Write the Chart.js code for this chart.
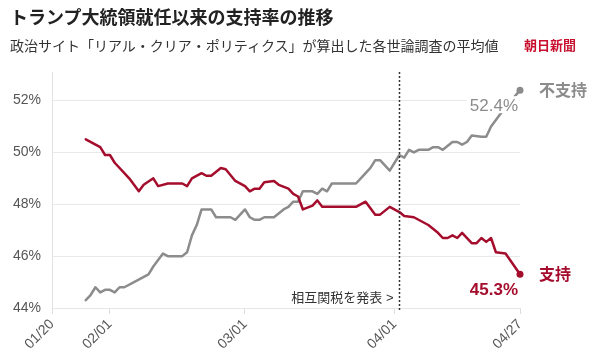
<!DOCTYPE html>
<html>
<head>
<meta charset="utf-8">
<script src="https://cdn.jsdelivr.net/npm/chart.js@4"></script>
<style>
  body { margin: 0; background: #fff; }
  #wrap { position: relative; width: 606px; height: 362px; overflow: hidden; }
  #wrap canvas { position: absolute; left: 0; top: 0; }
  .hd { position: absolute; white-space: nowrap; line-height: 1; font-family: "Noto Sans CJK JP", "Noto Sans", sans-serif; }
  #title { left: 10px; top: 7px; font-size: 18px; font-weight: bold; color: #222; }
  #sub { left: 10px; top: 38px; font-size: 14px; color: #333; }
  #logo { left: 524px; top: 38px; font-size: 13px; font-weight: bold; color: #c8102e; }
</style>
</head>
<body>
<div id="wrap">
  <canvas id="lineChart" width="606" height="362"></canvas>
  <div class="hd" id="title">トランプ大統領就任以来の支持率の推移</div>
  <div class="hd" id="sub">政治サイト「リアル・クリア・ポリティクス」が算出した各世論調査の平均値</div>
  <div class="hd" id="logo">朝日新聞</div>
</div>
<script>
// x = days since 01/20 (inauguration)
const xTickDays = [0, 12, 40, 71, 97];
const xTickLabels = ['01/20', '02/01', '03/01', '04/01', '04/27'];
const yTicks = [44, 46, 48, 50, 52];

// 支持 (approve)
const supportDays = [7, 10, 11, 12, 13, 16, 18, 19, 21, 22, 24, 27, 28, 29, 31, 32, 33, 35, 36, 38, 40, 41, 42, 43, 44, 46, 47, 49, 50, 51, 52, 54, 55, 56, 63, 65, 67, 68, 70, 72, 73, 75, 78, 80, 81, 82, 83, 84, 85, 87, 88, 89, 90, 91, 92, 94, 97];
const supportValues = [50.5, 50.2, 49.9, 49.9, 49.6, 49.0, 48.5, 48.75, 49.0, 48.7, 48.8, 48.8, 48.7, 49.0, 49.2, 49.1, 49.1, 49.4, 49.35, 48.9, 48.7, 48.5, 48.6, 48.6, 48.85, 48.9, 48.75, 48.6, 48.4, 48.3, 47.8, 47.95, 48.15, 47.9, 47.9, 48.1, 47.6, 47.6, 47.9, 47.7, 47.55, 47.5, 47.2, 46.9, 46.7, 46.7, 46.8, 46.7, 46.9, 46.5, 46.5, 46.7, 46.55, 46.7, 46.15, 46.1, 45.3];

// 不支持 (disapprove)
const disapproveDays = [7, 8, 9, 10, 11, 12, 13, 14, 15, 17, 20, 21, 23, 24, 27, 28, 29, 30, 31, 33, 34, 37, 38, 40, 41, 42, 43, 44, 46, 48, 49, 50, 51, 52, 54, 55, 56, 57, 58, 63, 64, 66, 67, 68, 70, 71, 72, 73, 74, 75, 76, 78, 79, 80, 81, 83, 84, 85, 86, 87, 89, 90, 91, 93, 97];
const disapproveValues = [44.3, 44.5, 44.8, 44.6, 44.7, 44.7, 44.6, 44.8, 44.8, 45.0, 45.3, 45.6, 46.1, 46.0, 46.0, 46.15, 46.8, 47.2, 47.8, 47.8, 47.5, 47.5, 47.4, 47.8, 47.5, 47.4, 47.4, 47.5, 47.5, 47.8, 47.9, 48.1, 48.1, 48.5, 48.5, 48.4, 48.6, 48.5, 48.8, 48.8, 49.0, 49.4, 49.7, 49.7, 49.3, 49.6, 49.9, 49.8, 50.1, 50.0, 50.1, 50.1, 50.2, 50.2, 50.1, 50.4, 50.4, 50.3, 50.4, 50.65, 50.6, 50.6, 51.0, 51.5, 52.4];

const tariffDay = 72;

const RED = '#a50d2d';
const GRAY = '#8c8c8c';
const FONT = '"Liberation Sans", "Noto Sans CJK JP", sans-serif';

function toPoints(days, vals) {
  return days.map((d, i) => ({ x: d, y: vals[i] }));
}
function lastDot(ctx) {
  return ctx.dataIndex === ctx.dataset.data.length - 1 ? 3.5 : 0;
}

// dotted line + labels
const notes = {
  id: 'notes',
  afterDatasetsDraw(chart) {
    const { ctx, chartArea, scales } = chart;
    const x = scales.x, y = scales.y;
    ctx.save();

    const tx = Math.round(x.getPixelForValue(tariffDay)) + 0.5;
    ctx.strokeStyle = '#333';
    ctx.lineWidth = 1.5;
    ctx.setLineDash([2, 2]);
    ctx.beginPath();
    ctx.moveTo(tx, chartArea.top);
    ctx.lineTo(tx, chartArea.bottom + 2);
    ctx.stroke();
    ctx.setLineDash([]);

    ctx.font = '13px ' + FONT;
    ctx.fillStyle = '#333';
    ctx.textAlign = 'right';
    ctx.textBaseline = 'alphabetic';
    ctx.fillText('相互関税を発表 >', tx - 6, chartArea.bottom - 6);

    const endX = x.getPixelForValue(disapproveDays[disapproveDays.length - 1]);
    const dy = y.getPixelForValue(disapproveValues[disapproveValues.length - 1]);
    const sy = y.getPixelForValue(supportValues[supportValues.length - 1]);

    ctx.font = '17px ' + FONT;
    const dTxt = disapproveValues[disapproveValues.length - 1].toFixed(1) + '%';
    const w = ctx.measureText(dTxt).width;
    ctx.fillStyle = '#fff';
    ctx.fillRect(endX - 3 - w - 2, dy + 6, w + 4, 17);
    ctx.fillStyle = GRAY;
    ctx.textBaseline = 'top';
    ctx.fillText(dTxt, endX - 2, dy + 8);

    ctx.font = 'bold 17px ' + FONT;
    ctx.fillStyle = RED;
    ctx.fillText(supportValues[supportValues.length - 1].toFixed(1) + '%', endX - 2, sy + 8);

    ctx.font = 'bold 16px "Noto Sans CJK JP", sans-serif';
    ctx.textAlign = 'left';
    ctx.textBaseline = 'middle';
    ctx.fillStyle = GRAY;
    ctx.fillText('不支持', endX + 19, dy);
    ctx.fillStyle = RED;
    ctx.fillText('支持', endX + 19, sy);
    ctx.restore();
  }
};

const data = {
  datasets: [{
    label: '支持',
    data: toPoints(supportDays, supportValues),
    borderColor: RED,
    backgroundColor: RED,
    borderWidth: 2.5,
    pointRadius: lastDot,
    pointBorderWidth: 0,
    tension: 0,
    clip: false
  }, {
    label: '不支持',
    data: toPoints(disapproveDays, disapproveValues),
    borderColor: GRAY,
    backgroundColor: GRAY,
    borderWidth: 2.5,
    pointRadius: lastDot,
    pointBorderWidth: 0,
    tension: 0,
    clip: false
  }]
};

const config = {
  type: 'line',
  data: data,
  options: {
    responsive: false,
    animation: false,
    layout: { padding: { top: 72, right: 86, left: 0, bottom: 0 } },
    plugins: {
      legend: { display: false },
      tooltip: { enabled: false }
    },
    elements: { line: { borderJoinStyle: 'round', borderCapStyle: 'round' } },
    scales: {
      x: {
        type: 'linear',
        min: 0,
        max: 97,
        afterBuildTicks: (scale) => { scale.ticks = xTickDays.map(v => ({ value: v })); },
        afterFit: (scale) => { scale.height = 54; },
        grid: { drawOnChartArea: false, drawTicks: true, tickLength: 6, color: '#ddd' },
        border: { color: '#e6e6e6' },
        ticks: {
          autoSkip: false,
          minRotation: 45,
          maxRotation: 45,
          padding: 2,
          color: '#555',
          font: { family: FONT, size: 14 },
          callback: (v) => xTickLabels[xTickDays.indexOf(v)]
        }
      },
      y: {
        min: 44,
        max: 53.1,
        afterBuildTicks: (scale) => { scale.ticks = yTicks.map(v => ({ value: v })); },
        afterFit: (scale) => { scale.width = 52; },
        grid: { color: '#e8e8e8', drawTicks: false },
        border: { color: '#e2e2e2' },
        ticks: {
          padding: 11,
          color: '#555',
          font: { family: FONT, size: 14 },
          callback: (v) => v + '%'
        }
      }
    }
  },
  plugins: [notes]
};

var myChart = new Chart(document.getElementById('lineChart'), config);
</script>
</body>
</html>
